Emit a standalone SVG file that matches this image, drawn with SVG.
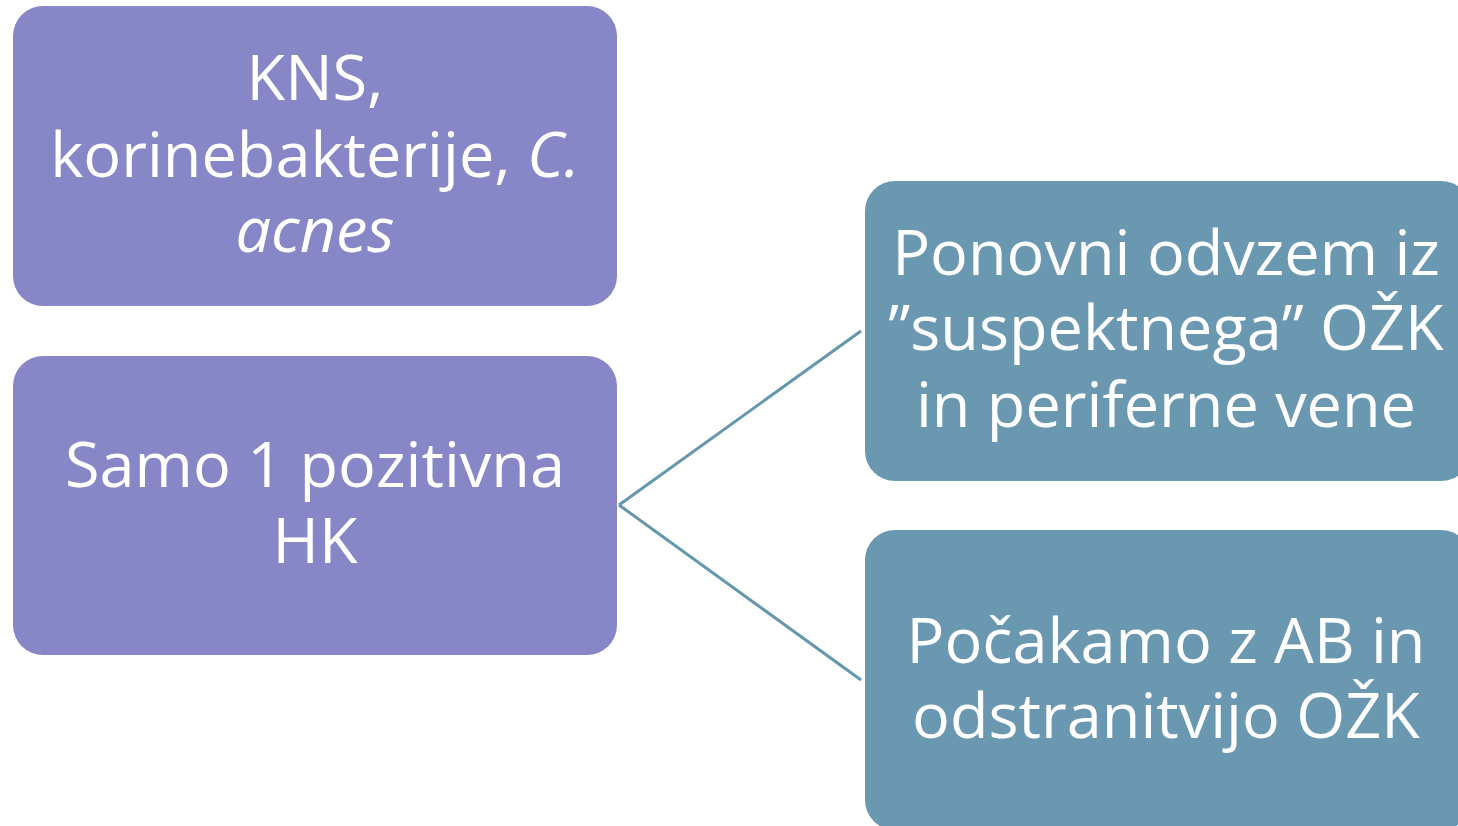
<svg xmlns="http://www.w3.org/2000/svg" width="1458" height="826" viewBox="0 0 1458 826">
<style>
.p{fill:#8786C6}
.b{fill:#6998B0}
.t{fill:#fff;font-family:"Open Sans","Liberation Sans",sans-serif;font-size:63px;text-anchor:middle}
.c{stroke:#6496AE;stroke-width:3;fill:none}
</style>
<rect width="1458" height="826" fill="#fff"/>
<g id="connectors">
<line class="c" x1="619" y1="505" x2="861" y2="331"/>
<line class="c" x1="619" y1="505" x2="861" y2="680"/>
</g>
<g id="n1">
<rect class="p" x="13" y="6" width="604" height="300" rx="30"/>
<text class="t"><tspan x="315" y="100">KNS,</tspan><tspan x="315" y="177">korinebakterije, <tspan font-style="italic">C.</tspan></tspan><tspan x="315" y="252" font-style="italic">acnes</tspan></text>
</g>
<g id="n2">
<rect class="p" x="13" y="356" width="604" height="299" rx="30"/>
<text class="t"><tspan x="315" y="487">Samo 1 pozitivna</tspan><tspan x="315" y="563">HK</tspan></text>
</g>
<g id="n3">
<rect class="b" x="865" y="181" width="606" height="300" rx="30"/>
<text class="t"><tspan x="1166" y="275">Ponovni odvzem iz</tspan><tspan x="1166" y="350">”suspektnega” OŽK</tspan><tspan x="1166" y="427">in periferne vene</tspan></text>
</g>
<g id="n4">
<rect class="b" x="865" y="530" width="606" height="300" rx="30"/>
<text class="t"><tspan x="1166" y="663">Počakamo z AB in</tspan><tspan x="1166" y="738">odstranitvijo OŽK</tspan></text>
</g>
</svg>
